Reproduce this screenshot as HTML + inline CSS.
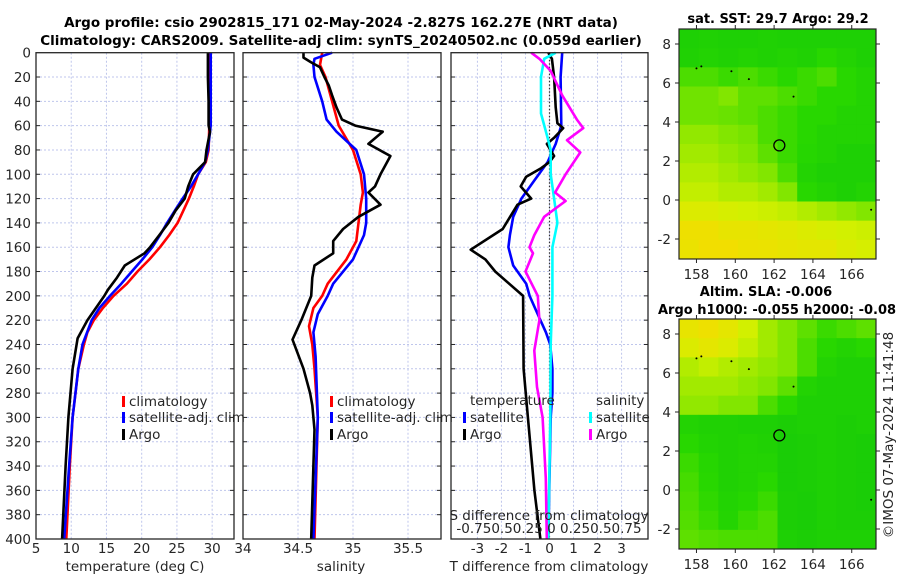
<!DOCTYPE html>
<html><head><meta charset="utf-8"><style>
html,body{margin:0;padding:0;background:#fff;}
svg{display:block;font-family:"DejaVu Sans","Liberation Sans",sans-serif;}
.tk{font-size:13.5px;fill:#262626;}
.tt{font-size:13.5px;font-weight:bold;fill:#000;}
.mt{font-size:13px;font-weight:bold;fill:#000;}
</style></head><body>
<svg id="fig" width="900" height="580" viewBox="0 0 900 580" xmlns="http://www.w3.org/2000/svg">
<rect width="900" height="580" fill="#fff"/>
<text class="tt" x="341" y="27" text-anchor="middle">Argo profile: csio 2902815_171 02-May-2024 -2.827S 162.27E (NRT data)</text>
<text class="tt" x="341" y="45" text-anchor="middle">Climatology: CARS2009. Satellite-adj clim: synTS_20240502.nc (0.059d earlier)</text>
<g id="p1"></g>
<g id="p2"></g>
<g id="p3"></g>
<g id="m1"></g>
<g id="m2"></g>
<text class="mt" x="778" y="23" text-anchor="middle">sat. SST: 29.7 Argo: 29.2</text>
<text class="mt" x="766" y="296" text-anchor="middle">Altim. SLA: -0.006</text>
<text class="mt" x="658" y="314">Argo h1000: -0.055 h2000: -0.08</text>
<text class="tk" x="0" y="0" transform="translate(893,435) rotate(-90)" text-anchor="middle">©IMOS 07-May-2024 11:41:48</text>
</svg>
<script>
// ---- data ----
const depthTicks=[0,20,40,60,80,100,120,140,160,180,200,220,240,260,280,300,320,340,360,380,400];
const tTicks=[5,10,15,20,25,30];
const sTicks=[34,34.5,35,35.5];
const dTicks=[-3,-2,-1,0,1,2,3];
const sdTickLabel="-0.750.50.25 0 0.250.50.75";
const tClimD=[0,20,40,60,80,90,100,110,120,130,140,150,160,170,180,190,200,210,220,230,240,260,280,300,340,400];
const tClim=[29.6,29.6,29.6,29.6,29.5,29.1,28.0,27.4,26.7,25.9,25.1,23.9,22.6,21.1,19.4,17.9,16.0,14.5,13.2,12.3,11.8,11.0,10.6,10.2,9.8,9.3];
const tSatD=[0,20,40,60,80,90,100,110,120,130,140,150,160,170,180,190,200,210,220,240,260,300,340,400];
const tSat=[29.8,29.8,29.8,29.8,29.4,29.0,28.0,27.0,25.8,24.7,23.6,22.6,21.5,20.1,18.6,17.1,15.5,14.0,12.9,11.6,11.0,10.2,9.7,9.0];
const tArgoD=[0,20,40,60,65,80,90,100,110,120,130,140,150,160,165,175,185,195,200,210,220,235,260,300,340,400];
const tArgo=[29.4,29.4,29.5,29.5,29.7,29.2,29.0,27.3,26.6,26.1,24.8,23.8,22.5,21.2,20.4,17.6,16.5,15.2,14.7,13.5,12.3,10.9,10.2,9.6,9.2,8.7];
const sClimD=[0,10,20,40,60,80,100,115,125,140,155,170,190,200,210,225,240,260,300,400];
const sClim=[34.72,34.70,34.75,34.81,34.87,35.0,35.07,35.09,35.07,35.05,35.03,34.94,34.77,34.72,34.64,34.60,34.63,34.65,34.68,34.65];
const sSatD=[0,5,10,20,40,55,65,80,100,120,140,150,170,190,200,215,230,250,300,400];
const sSat=[34.81,34.65,34.64,34.65,34.72,34.76,34.85,35.03,35.10,35.12,35.12,35.10,35.0,34.82,34.77,34.68,34.64,34.66,34.68,34.64];
const sArgoD=[0,4,8,12,20,27,35,45,55,60,65,75,85,100,110,115,125,135,145,155,165,175,185,200,220,236,260,280,290,310,400];
const sArgo=[34.55,34.55,34.62,34.70,34.74,34.78,34.81,34.85,34.90,35.02,35.27,35.14,35.34,35.25,35.20,35.14,35.25,35.05,34.91,34.82,34.82,34.65,34.63,34.62,34.53,34.45,34.55,34.61,34.63,34.65,34.62];
const dtSatD=[0,20,60,75,90,105,120,135,150,160,175,190,200,215,230,240,260,280,300,400];
const dtSat=[0.53,0.46,0.49,0.26,-0.08,-0.63,-1.17,-1.51,-1.65,-1.71,-1.51,-0.97,-0.83,-0.49,-0.15,0.03,0.12,0.12,0.05,-0.05];
const dtArgoD=[0,5,20,45,58,62,70,75,85,90,95,102,110,120,125,145,162,170,180,200,260,300,360,400];
const dtArgo=[-0.05,0.1,0.19,0.26,0.33,0.57,0.19,-0.11,0.19,0.0,-0.35,-0.97,-1.2,-0.76,-1.33,-1.95,-3.28,-2.67,-2.26,-1.1,-1.08,-0.9,-0.63,-0.38];
const dsSatD=[0,5,20,50,70,80,100,120,140,160,200,240,300,400];
const dsSat=[0.065,-0.055,-0.088,-0.088,-0.02,0.012,0.012,0.048,0.082,0.03,0.03,0.012,0.008,-0.012];
const dsArgoD=[0,5,15,35,55,62,72,82,100,115,122,135,150,160,165,180,200,220,245,275,300,350,400];
const dsArgo=[-0.19,-0.105,0.012,0.132,0.285,0.352,0.182,0.32,0.168,0.058,0.168,-0.055,-0.158,-0.208,-0.172,-0.25,-0.122,-0.105,-0.158,-0.13,-0.072,-0.038,-0.028];
const lonTicks=[158,160,162,164,166];
const latTicks=[-2,0,2,4,6,8];
const sstGrid=[
[0.1,0.12,0.1,0.1,0.12,0.1,0.1,0.1,0.1,0.1],
[0.12,0.15,0.12,0.15,0.12,0.15,0.12,0.2,0.15,0.1],
[0.3,0.3,0.25,0.3,0.25,0.2,0.25,0.3,0.2,0.15],
[0.4,0.4,0.45,0.35,0.35,0.3,0.25,0.2,0.2,0.15],
[0.4,0.4,0.38,0.35,0.3,0.25,0.2,0.2,0.15,0.15],
[0.5,0.5,0.45,0.42,0.3,0.25,0.2,0.15,0.15,0.15],
[0.55,0.55,0.5,0.45,0.35,0.25,0.18,0.15,0.1,0.1],
[0.6,0.6,0.55,0.5,0.45,0.3,0.15,0.1,0.1,0.1],
[0.65,0.65,0.6,0.6,0.55,0.45,0.2,0.15,0.1,0.15],
[0.75,0.75,0.72,0.7,0.68,0.65,0.6,0.55,0.5,0.45],
[0.86,0.86,0.82,0.82,0.8,0.78,0.75,0.72,0.7,0.68],
[0.84,0.88,0.88,0.85,0.84,0.82,0.8,0.8,0.75,0.72]];
const slaGrid=[
[0.82,0.86,0.8,0.7,0.55,0.45,0.35,0.25,0.3,0.35],
[0.75,0.8,0.75,0.65,0.55,0.45,0.3,0.2,0.15,0.2],
[0.6,0.65,0.6,0.55,0.5,0.45,0.3,0.15,0.1,0.1],
[0.55,0.55,0.55,0.5,0.45,0.35,0.15,0.1,0.1,0.1],
[0.5,0.5,0.45,0.45,0.3,0.2,0.1,0.1,0.1,0.1],
[0.15,0.12,0.12,0.1,0.1,0.08,0.1,0.1,0.08,0.1],
[0.2,0.14,0.12,0.14,0.12,0.06,0.08,0.1,0.08,0.06],
[0.25,0.18,0.12,0.15,0.15,0.06,0.08,0.1,0.08,0.06],
[0.28,0.2,0.12,0.15,0.2,0.06,0.08,0.1,0.08,0.06],
[0.3,0.22,0.14,0.18,0.25,0.08,0.06,0.1,0.08,0.06],
[0.32,0.25,0.16,0.25,0.3,0.08,0.06,0.1,0.08,0.08],
[0.35,0.32,0.3,0.3,0.3,0.1,0.08,0.1,0.1,0.1]];
const argoLon=162.27, argoLat=2.8;
const islandLon=[158.25,158.0,159.8,160.7,163.0,167.0];
const islandLat=[6.85,6.75,6.6,6.2,5.3,-0.5];

// ---- helpers ----
const NS='http://www.w3.org/2000/svg';
function mk(parent,tag,attrs){const e=document.createElementNS(NS,tag);for(const k in attrs)e.setAttribute(k,attrs[k]);parent.appendChild(e);return e;}
const Y0=52.7,Y1=539;
const yD=d=>Y0+(d/400)*(Y1-Y0);
function panel(g,x0,x1,vmin,vmax,gridVals){
  const sx=v=>x0+(v-vmin)/(vmax-vmin)*(x1-x0);
  gridVals.forEach(v=>{const l=mk(g,'line',{x1:sx(v),x2:sx(v),y1:Y0,y2:Y1,stroke:'#bfc6ec','stroke-width':1,'stroke-dasharray':'2,2'});
    });
  depthTicks.forEach(d=>{if(d===0||d===400)return;const l=mk(g,'line',{x1:x0,x2:x1,y1:yD(d),y2:yD(d),stroke:'#bfc6ec','stroke-width':1,'stroke-dasharray':'2,2'});
    
    mk(g,'line',{x1:x0,x2:x0+4,y1:yD(d),y2:yD(d),stroke:'#262626'});mk(g,'line',{x1:x1-4,x2:x1,y1:yD(d),y2:yD(d),stroke:'#262626'});});
  return sx;
}
function frame(g,x0,x1){const r=mk(g,'rect',{x:x0,y:Y0,width:x1-x0,height:Y1-Y0,fill:'none',stroke:'#262626','stroke-width':1.3});
  }
function line(g,sx,ds,vs,col,name,w){const pts=ds.map((d,i)=>sx(vs[i]).toFixed(1)+','+yD(d).toFixed(1)).join(' ');
  const p=mk(g,'polyline',{points:pts,fill:'none',stroke:col,'stroke-width':w||2.6,'stroke-linejoin':'round'});
  }
function txt(g,x,y,s,anchor,cls,name){const t=mk(g,'text',{x:x,y:y,'text-anchor':anchor||'start',class:cls||'tk'});t.textContent=s;
  return t;}
function legend(g,x,y,col,label){const r=mk(g,'rect',{x:x,y:y-10,width:3,height:11,fill:col});
  
  txt(g,x+7,y,label,'start','tk','legend-entry');}

// ---- panel 1 ----
const p1=document.getElementById('p1');
const sx1=panel(p1,36,234,5,33.1,[10,15,20,25,30]);
line(p1,sx1,tClimD,tClim,'#ff0000','temperature-climatology-line');
line(p1,sx1,tSatD,tSat,'#0000ff','temperature-satellite-line');
line(p1,sx1,tArgoD,tArgo,'#000000','temperature-argo-line');
frame(p1,36,234);
depthTicks.forEach(d=>txt(p1,31,yD(d)+5,String(d),'end','tk','depth-tick-label'));
tTicks.forEach(v=>txt(p1,sx1(v),553,String(v),'middle','tk','temperature-tick-label'));
txt(p1,135,571,'temperature (deg C)','middle','tk','temperature-axis-title');
legend(p1,122,406,'#ff0000','climatology');legend(p1,122,422,'#0000ff','satellite-adj. clim');legend(p1,122,439,'#000000','Argo');

// ---- panel 2 ----
const p2=document.getElementById('p2');
const sx2=panel(p2,243,441,34,35.8,[34.5,35,35.5]);
line(p2,sx2,sClimD,sClim,'#ff0000','salinity-climatology-line');
line(p2,sx2,sSatD,sSat,'#0000ff','salinity-satellite-line');
line(p2,sx2,sArgoD,sArgo,'#000000','salinity-argo-line');
frame(p2,243,441);
sTicks.forEach(v=>txt(p2,sx2(v),553,String(v),'middle','tk','salinity-tick-label'));
txt(p2,341,571,'salinity','middle','tk','salinity-axis-title');
legend(p2,330,406,'#ff0000','climatology');legend(p2,330,422,'#0000ff','satellite-adj. clim');legend(p2,330,439,'#000000','Argo');

// ---- panel 3 ----
const p3=document.getElementById('p3');
const sx3=panel(p3,451,648,-4.1,4.1,dTicks);
const sxS=v=>sx3(v*4);
const zl=mk(p3,'line',{x1:sx3(0),x2:sx3(0),y1:Y0,y2:Y1,stroke:'#333','stroke-width':1.2,'stroke-dasharray':'1.5,2'});

line(p3,sx3,dtSatD,dtSat,'#0000ff','t-diff-satellite-line');
line(p3,sx3,dtArgoD,dtArgo,'#000000','t-diff-argo-line');
line(p3,sxS,dsSatD,dsSat,'#00ffff','s-diff-satellite-line');
line(p3,sxS,dsArgoD,dsArgo,'#ff00ff','s-diff-argo-line');
frame(p3,451,648);
dTicks.forEach(v=>txt(p3,sx3(v),553,String(v),'middle','tk','t-diff-tick-label'));
txt(p3,549,571,'T difference from climatology','middle','tk','t-diff-axis-title');
txt(p3,549,520,'S difference from climatology','middle','tk','s-diff-axis-title');
txt(p3,549,533,sdTickLabel,'middle','tk','s-diff-tick-labels');
txt(p3,470,405,'temperature','start','tk','legend-title-temperature');
txt(p3,596,405,'salinity','start','tk','legend-title-salinity');
legend(p3,463,422,'#0000ff','satellite');legend(p3,463,439,'#000000','Argo');
legend(p3,589,422,'#00ffff','satellite');legend(p3,589,439,'#ff00ff','Argo');

// ---- maps ----
function cmap(v){const stops=[[0,[20,200,10]],[0.2,[40,215,0]],[0.45,[130,230,0]],[0.7,[210,240,0]],[0.9,[245,220,0]],[1,[250,200,0]]];
  for(let i=1;i<stops.length;i++){if(v<=stops[i][0]){const a=stops[i-1],b=stops[i];const t=(v-a[0])/(b[0]-a[0]);
    return 'rgb('+a[1].map((c,k)=>Math.round(c+(b[1][k]-c)*t)).join(',')+')';}}return 'rgb(250,200,0)';}
function map(g,top,bot,grid){
  const x0=679,x1=876,lon0=157.1,lon1=167.25;
  const sx=lo=>x0+(lo-lon0)/(lon1-lon0)*(x1-x0);
  const sy=la=>(top+15)+(8-la)*((bot-top-35)/10);
  const rows=grid.length,cols=grid[0].length,cw=(x1-x0)/cols,ch=(bot-top)/rows;
  grid.forEach((row,r)=>row.forEach((v,c)=>{const e=mk(g,'rect',{x:x0+c*cw,y:top+r*ch,width:cw+0.5,height:ch+0.5,fill:cmap(v)});
    }));
  islandLon.forEach((lo,i)=>{const d=mk(g,'circle',{cx:sx(lo),cy:sy(islandLat[i]),r:1,fill:'#000'});
    });
  const c=mk(g,'circle',{cx:sx(argoLon),cy:sy(argoLat),r:5.5,fill:'none',stroke:'#000','stroke-width':1.3});
  
  const fr=mk(g,'rect',{x:x0,y:top,width:x1-x0,height:bot-top,fill:'none',stroke:'#262626','stroke-width':1.2});
  
  lonTicks.forEach(lo=>{mk(g,'line',{x1:sx(lo),x2:sx(lo),y1:bot,y2:bot+4,stroke:'#262626'});mk(g,'line',{x1:sx(lo),x2:sx(lo),y1:top,y2:top-4,stroke:'#262626'});
    txt(g,sx(lo),bot+20,String(lo),'middle','tk','longitude-tick-label');});
  latTicks.forEach(la=>{mk(g,'line',{x1:x0-4,x2:x0,y1:sy(la),y2:sy(la),stroke:'#262626'});mk(g,'line',{x1:x1,x2:x1+4,y1:sy(la),y2:sy(la),stroke:'#262626'});
    txt(g,x0-8,sy(la)+5,String(la),'end','tk','latitude-tick-label');});
}
map(document.getElementById('m1'),29,259,sstGrid);
map(document.getElementById('m2'),319,549,slaGrid);
</script>
</body></html>
